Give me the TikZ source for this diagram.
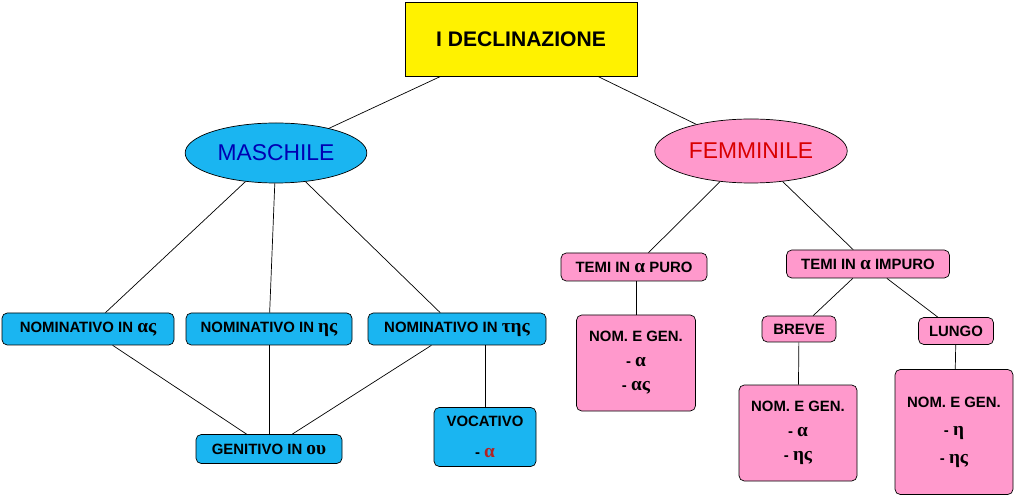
\documentclass[tikz,border=0pt]{standalone}
\usepackage{fontspec}
\setmainfont{Liberation Sans}
\newfontfamily\grk{Liberation Serif}
\usetikzlibrary{shapes.geometric}
\colorlet{mycyan}{cyan!90!white}
\definecolor{mypink}{HTML}{FF99CC}
\definecolor{myred}{HTML}{B22222}
\newcommand{\gr}[1]{{\grk\fontsize{11}{13}\selectfont #1}}
\tikzset{
  box/.style={draw,rounded corners=3pt,font=\bfseries\fontsize{8.5}{10}\selectfont,inner sep=1pt,align=center},
  mbox/.style={box,fill=mycyan},
  fbox/.style={box,fill=mypink},
  link/.style={draw,thin}
}
\begin{document}
\begin{tikzpicture}[x=0.02cm,y=-0.02cm]
  \useasboundingbox (0,0) rectangle (1016,499);
  % ROOT
  \node[draw,fill=yellow,minimum width=232*0.02cm,minimum height=74*0.02cm,font=\bfseries\fontsize{12}{14}\selectfont] (root) at (521,39) {I DECLINAZIONE};
  \node[ellipse,draw,fill=mycyan,minimum width=144*0.02cm,minimum height=60*0.02cm,text=blue!70!black,font=\fontsize{13}{15}\selectfont] (masc) at (276,153) {MASCHILE};
  \node[ellipse,draw,fill=mypink,minimum width=148*0.02cm,minimum height=64*0.02cm,text=red!85!black,font=\fontsize{13}{15}\selectfont] (femm) at (751,151) {FEMMINILE};
  % MASCHILE
  \node[mbox,minimum width=172*0.02cm,minimum height=32*0.02cm] (nas) at (88,329) {NOMINATIVO IN \gr{ας}};
  \node[mbox,minimum width=166*0.02cm,minimum height=32*0.02cm] (nes) at (269,329) {NOMINATIVO IN \gr{ης}};
  \node[mbox,minimum width=178*0.02cm,minimum height=32*0.02cm] (ntes) at (457,329) {NOMINATIVO IN \gr{της}};
  \node[mbox,minimum width=146*0.02cm,minimum height=29*0.02cm] (gen) at (269,449) {GENITIVO IN \gr{ου}};
  \node[mbox,minimum width=102*0.02cm,minimum height=59*0.02cm] (voc) at (485,437) {VOCATIVO\\[8pt] - \textcolor{myred}{\gr{α}}};
  % FEMMINILE
  \node[fbox,minimum width=146*0.02cm,minimum height=28*0.02cm] (puro) at (634,267) {TEMI IN \gr{α} PURO};
  \node[fbox,minimum width=163*0.02cm,minimum height=28*0.02cm] (impuro) at (868,264) {TEMI IN \gr{α} IMPURO};
  \node[fbox,minimum width=119*0.02cm,minimum height=96*0.02cm] (ngp) at (636,363) {NOM. E GEN.\\[4pt] - \gr{α}\\[4pt] - \gr{ας}};
  \node[fbox,minimum width=74*0.02cm,minimum height=26*0.02cm] (breve) at (799,329) {BREVE};
  \node[fbox,minimum width=75*0.02cm,minimum height=27*0.02cm] (lungo) at (956,331) {LUNGO};
  \node[fbox,minimum width=118*0.02cm,minimum height=96*0.02cm] (ngb) at (798,433) {NOM. E GEN.\\[4pt] - \gr{α}\\[4pt] - \gr{ης}};
  \node[fbox,minimum width=118*0.02cm,minimum height=125*0.02cm] (ngl) at (954,432) {NOM. E GEN.\\[6pt] - \gr{η}\\[6pt] - \gr{ης}};
  % LINKS
  \draw[link] (root) -- (masc);
  \draw[link] (root) -- (femm);
  \foreach \n in {nas,nes,ntes}{
    \draw[link] (masc) -- (\n);
    \draw[link] (\n) -- (gen);
  }
  \draw[link] (ntes.south -| voc) -- (voc);
  \draw[link] (femm) -- (puro);
  \draw[link] (femm) -- (impuro);
  \draw[link] (puro.south -| ngp) -- (ngp);
  \draw[link] (impuro) -- (breve);
  \draw[link] (impuro) -- (lungo);
  \draw[link] (breve) -- (ngb);
  \draw[link] (lungo) -- (ngl);
\end{tikzpicture}
\end{document}
